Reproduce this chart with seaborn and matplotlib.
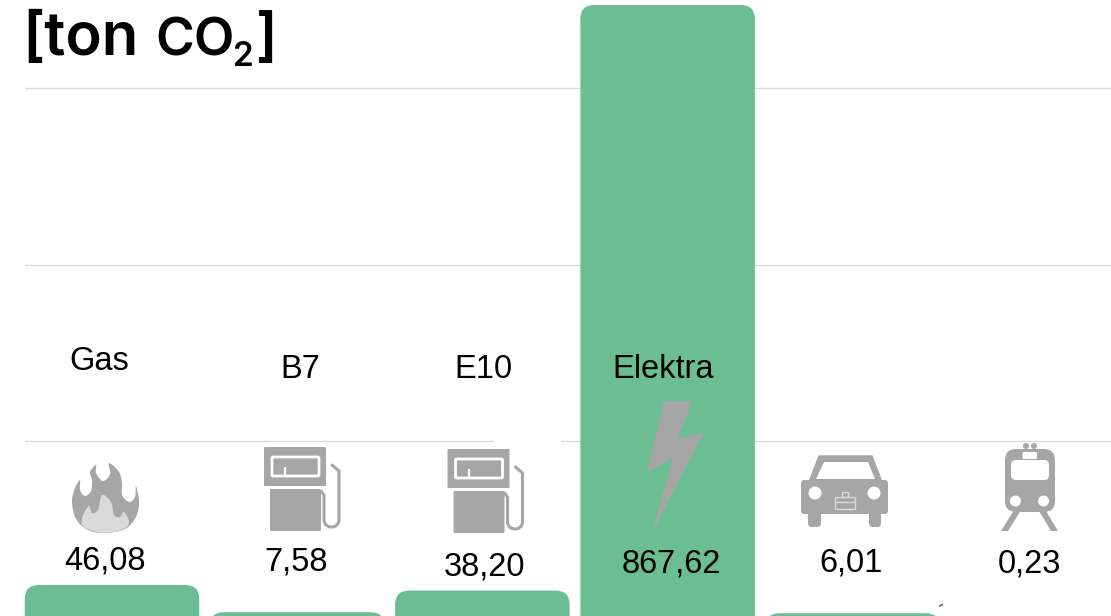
import numpy as np
import pandas as pd
import matplotlib
matplotlib.use("Agg")
import matplotlib.pyplot as plt
import seaborn as sns
from matplotlib.patches import FancyBboxPatch, Polygon, Circle, PathPatch, Rectangle
from matplotlib.path import Path

# ---- data ----
categories = ["Gas", "B7", "E10", "Elektra", "Auto", "Trein"]
values = [46.08, 7.58, 38.20, 867.62, 6.01, 0.23]
shown_labels = ["Gas", "B7", "E10", "Elektra", "", ""]
grid_values = [250, 500, 750]

GREEN = "#6BBD92"
GREY = "#A6A6A6"
LIGHT = "#D9D9D9"

W, H = 1111, 616
sns.set_theme(style="white")
plt.rcParams["font.family"] = ["Liberation Sans", "DejaVu Sans"]

fig = plt.figure(figsize=(W / 100, H / 100), dpi=100, facecolor="white")
ax = fig.add_axes([0, 0, 1, 1])

df = pd.DataFrame({"cat": categories, "val": values})
sns.barplot(data=df, x="cat", y="val", color=GREEN, saturation=1, width=0.942, ax=ax, zorder=2)

# axis scale: pixel x = 112 + 185.2*i ; pixel y = 617.5 - 0.706*v
ax.set_xlim(-112 / 185.2, (W - 112) / 185.2)
ax.set_ylim((617.5 - H) / 0.706, 617.5 / 0.706)
ax.axis("off")

for v in grid_values:
    ax.axhline(v, xmin=25 / W, xmax=1, color=LIGHT, lw=1.0, zorder=1)

# rounded bars
radius_x = 14 / 185.2
radius_y = 14 / 0.706
for bar in list(ax.patches):
    x0, w, h = bar.get_x(), bar.get_width(), bar.get_height()
    low = -60
    ax.add_patch(FancyBboxPatch((x0, low), w, h - low,
                                boxstyle=f"round,pad=0,rounding_size={radius_x}",
                                mutation_aspect=radius_y / radius_x,
                                fc=GREEN, ec="none", zorder=2))
    bar.remove()

# ---- overlay in pixel coordinates for pictograms and text ----
ov = fig.add_axes([0, 0, 1, 1], facecolor="none")
ov.set_xlim(0, W)
ov.set_ylim(H, 0)
ov.axis("off")

ov.add_patch(Rectangle((494, 437), 67, 8, fc="white", ec="none", zorder=1))


def smooth(points, **kw):
    p = np.array(points, float)
    n = len(p)
    verts, codes = [p[0]], [Path.MOVETO]
    for i in range(n):
        p0, p1, p2, p3 = p[i - 1], p[i], p[(i + 1) % n], p[(i + 2) % n]
        verts += [p1 + (p2 - p0) / 6, p2 - (p3 - p1) / 6, p2]
        codes += [Path.CURVE4] * 3
    ov.add_patch(PathPatch(Path(verts, codes), ec="none", **kw))


def rrect(x0, y0, x1, y1, r, **kw):
    kw.setdefault("ec", "none")
    ov.add_patch(FancyBboxPatch((x0, y0), x1 - x0, y1 - y0,
                                boxstyle=f"round,pad=0,rounding_size={r}", **kw))


def pump(dx, dy):
    rrect(264 + dx, 447 + dy, 326 + dx, 486 + dy, 1, fc=GREY)
    rrect(272 + dx, 457 + dy, 319 + dx, 476 + dy, 1, fc=GREY, ec="white", lw=2)
    ov.plot([285 + dx, 285 + dx], [467 + dy, 476 + dy], color="white", lw=1.6, solid_capstyle="butt")
    rrect(270 + dx, 489 + dy, 321 + dx, 531 + dy, 1, fc=GREY)
    t = np.linspace(np.pi, 0, 20)
    hx = 331.5 + dx + 7.5 * np.cos(t)
    hy = 520 + dy + 7 * np.sin(t)
    xs = np.r_[321 + dx, 324 + dx, hx, 339 + dx, 339 + dx, 332 + dx]
    ys = np.r_[491 + dy, 495 + dy, hy, 473 + dy, 471 + dy, 465 + dy]
    ov.plot(xs, ys, color=GREY, lw=2.2)


# flame
smooth([(105, 533), (88, 530), (76, 519), (72, 502), (75, 488), (80, 480), (80, 490), (85, 496), (91, 491),
        (92, 480), (90, 472), (96, 465), (96, 473), (103, 481), (110, 474), (109, 463), (119, 472), (122, 484),
        (122, 495), (129, 502), (135, 497), (136, 486), (139, 502), (136, 517), (125, 529)], fc=GREY)
smooth([(105, 533), (90, 530), (82, 525), (83, 515), (89, 506), (92, 513), (98, 510), (102, 495), (111, 502),
        (114, 515), (120, 517), (124, 512), (129, 523), (121, 530)], fc=LIGHT)

pump(0, 0)
pump(183.5, 2)

# bolt
ov.add_patch(Polygon([(664, 401), (692, 401), (678, 439), (704, 432), (652, 533), (672.5, 459), (647, 472)],
                     fc=GREY, ec="none"))

# car
ov.add_patch(Polygon([(819, 456), (872, 456), (882, 482), (809, 482)], fc=GREY, ec=GREY, lw=1, joinstyle="round"))
ov.add_patch(Polygon([(824, 462), (868, 462), (875, 479), (816, 479)], fc="white", ec="none"))
rrect(801, 480, 888, 514, 3, fc=GREY)
rrect(808, 510, 821, 527, 4, fc=GREY)
rrect(869, 510, 881, 527, 4, fc=GREY)
ov.add_patch(Circle((815, 493), 6.5, fc="white", ec="none"))
ov.add_patch(Circle((874, 493), 6.5, fc="white", ec="none"))
ov.add_patch(Rectangle((835, 497), 20, 12, fc="none", ec=LIGHT, lw=1))
ov.add_patch(Rectangle((841.5, 492), 6.5, 5, fc="none", ec=LIGHT, lw=1))
ov.plot([835, 855], [501.5, 501.5], color=LIGHT, lw=1)

# train
rrect(1005, 449, 1055, 512, 11, fc=GREY)
rrect(1011, 460, 1049, 480, 5, fc="white")
rrect(1022.5, 452, 1037, 459, 1.5, fc="white")
for cx in (1015.5, 1043.6):
    ov.add_patch(Circle((cx, 501), 5.5, fc="white", ec="none"))
for cx in (1026, 1034):
    ov.add_patch(Circle((cx, 446), 3, fc=GREY, ec="none"))
ov.add_patch(Polygon([(1013.5, 511), (1020.5, 511), (1008, 531), (1001, 531)], fc=GREY, ec="none"))
ov.add_patch(Polygon([(1039, 511), (1046, 511), (1058, 531), (1051, 531)], fc=GREY, ec="none"))
ov.plot([939.5, 942.5], [606, 604.5], color="#666666", lw=1.2)

# labels
fs = 23.5
label_xy = [(99.5, 362), (300, 369), (483, 369), (663, 369), (0, 0), (0, 0)]
value_xy = [(105, 561), (296, 562), (485, 567), (671, 564), (851, 563), (1029, 564)]
for lab, (x, y) in zip(shown_labels, label_xy):
    if lab:
        ov.text(x, y, lab, ha="center", va="center", fontsize=fs, color="black")
for val, (x, y) in zip(values, value_xy):
    ov.text(x, y, f"{val:.2f}".replace(".", ","), ha="center", va="center", fontsize=fs, color="black")

# heading
hfont = dict(family="Inter", weight="semibold", color="black", va="baseline")
ov.text(22, 55, "[ton", fontsize=43, **hfont)
ov.text(155, 55, "CO", fontsize=38, **hfont)
ov.text(233, 66, "2", fontsize=24, **hfont)
ov.text(256, 55, "]", fontsize=42, **hfont)

fig.savefig("out.png", dpi=100, facecolor="white")
